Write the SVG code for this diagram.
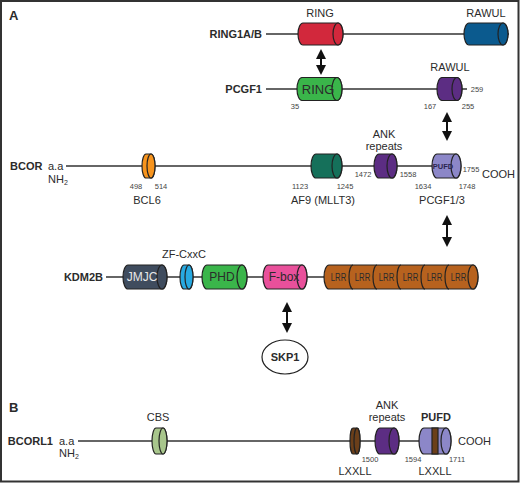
<svg xmlns="http://www.w3.org/2000/svg" width="520" height="483" viewBox="0 0 520 483">
<defs>
<style>
text{font-family:"Liberation Sans",Arial,sans-serif;fill:#2b2b2b}
.lbl{font-size:11px;font-weight:bold;text-anchor:end}
.dom{font-size:11px;text-anchor:middle}
.num{font-size:7.5px;text-anchor:middle;fill:#444}
.in{font-size:12px;text-anchor:middle}
.lrr{font-size:10px;text-anchor:middle}
.cyl{stroke:#222;stroke-width:1.2}
.ln{stroke:#333;stroke-width:1.5;fill:none}
.arr{stroke:#111;stroke-width:2;fill:none;marker-start:url(#ah);marker-end:url(#ah)}
</style>
<marker id="ah" viewBox="0 0 10 10" refX="8" refY="5" markerWidth="5" markerHeight="5" orient="auto-start-reverse" markerUnits="strokeWidth">
<path d="M0,0 L10,5 L0,10 Z" fill="#111"/>
</marker>
</defs>
<rect x="1" y="1" width="517.5" height="480.5" fill="#fff" stroke="#333" stroke-width="2"/>
<text x="9" y="20" style="font-size:13px;font-weight:bold">A</text>
<text x="9" y="412" style="font-size:13px;font-weight:bold">B</text>

<g id="connectors">
<line class="ln" x1="266" y1="34" x2="509" y2="34"/>
<line class="ln" x1="266" y1="89" x2="467" y2="89"/>
<line class="ln" x1="66" y1="166" x2="433" y2="166"/>
<line class="ln" x1="106" y1="277" x2="325" y2="277"/>
<line class="ln" x1="78" y1="441" x2="420" y2="441"/>
<line class="arr" x1="321" y1="51" x2="321" y2="73"/>
<line class="arr" x1="447" y1="114" x2="447" y2="139"/>
<line class="arr" x1="447" y1="217" x2="447" y2="245"/>
<line class="arr" x1="287" y1="304" x2="287" y2="331"/>
</g>

<g id="ring1ab">
<text class="lbl" x="262" y="38">RING1A/B</text>
<text class="dom" x="320" y="17">RING</text>
<path class="cyl" fill="#d2283c" d="M303,23 H338 A5,11 0 0 1 338,45 H303 A5,11 0 0 1 303,23 Z"/>
<ellipse class="cyl" fill="#d2283c" cx="338" cy="34" rx="5" ry="11"/>
<text class="dom" x="486" y="17">RAWUL</text>
<path class="cyl" fill="#0b5a8e" d="M469,23 H503 A5,11 0 0 1 503,45 H469 A5,11 0 0 1 469,23 Z"/>
<ellipse class="cyl" fill="#0b5a8e" cx="503" cy="34" rx="5" ry="11"/>
</g>

<g id="pcgf1">
<text class="lbl" x="262" y="93">PCGF1</text>
<path class="cyl" fill="#3ab54a" d="M302,77.5 H337 A5,11.5 0 0 1 337,100.5 H302 A5,11.5 0 0 1 302,77.5 Z"/>
<ellipse class="cyl" fill="#3ab54a" cx="337" cy="89" rx="5" ry="11.5"/>
<text class="in" x="318" y="94" style="font-size:13px">RING</text>
<text class="dom" x="450" y="71">RAWUL</text>
<path class="cyl" fill="#5c2d83" d="M442,77.5 H457 A5,11.5 0 0 1 457,100.5 H442 A5,11.5 0 0 1 442,77.5 Z"/>
<ellipse class="cyl" fill="#5c2d83" cx="457" cy="89" rx="5" ry="11.5"/>
<text class="num" x="477" y="92">259</text>
<text class="num" x="295" y="109">35</text>
<text class="num" x="430" y="109">167</text>
<text class="num" x="468" y="109">255</text>
</g>

<g id="bcor">
<text x="10" y="170" style="font-size:11px;font-weight:bold">BCOR</text>
<text x="48" y="170" style="font-size:11px">a.a</text>
<text x="48" y="183" style="font-size:11px">NH<tspan style="font-size:7px" dy="2">2</tspan></text>
<path class="cyl" fill="#f7941d" d="M146,154 H151 A4,12 0 0 1 151,178 H146 A4,12 0 0 1 146,154 Z"/>
<ellipse class="cyl" fill="#f7941d" cx="151" cy="166" rx="4" ry="12"/>
<text class="num" x="136" y="189">498</text>
<text class="num" x="161" y="189">514</text>
<text class="dom" x="147" y="204">BCL6</text>
<path class="cyl" fill="#15705a" d="M316,154 H337 A5,12 0 0 1 337,178 H316 A5,12 0 0 1 316,154 Z"/>
<ellipse class="cyl" fill="#15705a" cx="337" cy="166" rx="5" ry="12"/>
<text class="num" x="300" y="189">1123</text>
<text class="num" x="345" y="189">1245</text>
<text class="dom" x="323" y="204">AF9 (MLLT3)</text>
<text class="dom" x="384" y="138">ANK</text>
<text class="dom" x="384" y="150">repeats</text>
<path class="cyl" fill="#5c2d83" d="M379,154 H392 A5,12 0 0 1 392,178 H379 A5,12 0 0 1 379,154 Z"/>
<ellipse class="cyl" fill="#5c2d83" cx="392" cy="166" rx="5" ry="12"/>
<text class="num" x="363" y="177">1472</text>
<text class="num" x="408" y="177">1558</text>
<path class="cyl" fill="#8c87c8" d="M437,154 H456 A5,12 0 0 1 456,178 H437 A5,12 0 0 1 437,154 Z"/>
<ellipse class="cyl" fill="#8c87c8" cx="456" cy="166" rx="5" ry="12"/>
<text x="443" y="169" style="font-size:7.5px;font-weight:bold;text-anchor:middle;fill:#2a2550">PUFD</text>
<text class="num" x="471" y="172">1755</text>
<text x="482" y="178" style="font-size:11px">COOH</text>
<text class="num" x="423" y="189">1634</text>
<text class="num" x="467" y="189">1748</text>
<text class="dom" x="442" y="204">PCGF1/3</text>
</g>

<g id="kdm2b">
<text class="lbl" x="103" y="281">KDM2B</text>
<path class="cyl" fill="#3f4c5e" d="M128,265 H162 A5,12 0 0 1 162,289 H128 A5,12 0 0 1 128,265 Z"/>
<ellipse class="cyl" fill="#3f4c5e" cx="162" cy="277" rx="5" ry="12"/>
<text class="in" x="142" y="281" style="fill:#e8e8e8">JMJC</text>
<text class="dom" x="184" y="258">ZF-CxxC</text>
<path class="cyl" fill="#27a9e1" d="M184,265 H189 A4,12 0 0 1 189,289 H184 A4,12 0 0 1 184,265 Z"/>
<ellipse class="cyl" fill="#27a9e1" cx="189" cy="277" rx="4" ry="12"/>
<path class="cyl" fill="#3ab54a" d="M207,265 H242 A5,12 0 0 1 242,289 H207 A5,12 0 0 1 207,265 Z"/>
<ellipse class="cyl" fill="#3ab54a" cx="242" cy="277" rx="5" ry="12"/>
<text class="in" x="222" y="281">PHD</text>
<path class="cyl" fill="#e9509b" d="M268,265 H302 A5,12 0 0 1 302,289 H268 A5,12 0 0 1 268,265 Z"/>
<ellipse class="cyl" fill="#e9509b" cx="302" cy="277" rx="5" ry="12"/>
<text class="in" x="284" y="281">F-box</text>
<path class="cyl" fill="#b7621e" d="M329,265 H473 A5,12 0 0 1 473,289 H329 A5,12 0 0 1 329,265 Z"/>
<ellipse class="cyl" fill="#b7621e" cx="473" cy="277" rx="5" ry="12"/>
<path fill="none" stroke="#222" stroke-width="1.2" d="M353,265 A4,12 0 0 0 353,289 M377,265 A4,12 0 0 0 377,289 M401,265 A4,12 0 0 0 401,289 M425,265 A4,12 0 0 0 425,289 M449,265 A4,12 0 0 0 449,289"/>
<text class="lrr" x="338.5" y="281" textLength="15.5" lengthAdjust="spacingAndGlyphs">LRR</text>
<text class="lrr" x="362.5" y="281" textLength="15.5" lengthAdjust="spacingAndGlyphs">LRR</text>
<text class="lrr" x="386.5" y="281" textLength="15.5" lengthAdjust="spacingAndGlyphs">LRR</text>
<text class="lrr" x="410.5" y="281" textLength="15.5" lengthAdjust="spacingAndGlyphs">LRR</text>
<text class="lrr" x="434.5" y="281" textLength="15.5" lengthAdjust="spacingAndGlyphs">LRR</text>
<text class="lrr" x="458.5" y="281" textLength="15.5" lengthAdjust="spacingAndGlyphs">LRR</text>
</g>

<g id="skp1">
<ellipse cx="285" cy="357" rx="23" ry="17" fill="#fff" stroke="#222" stroke-width="1.2"/>
<text x="285" y="361" style="font-size:11px;font-weight:bold;text-anchor:middle">SKP1</text>
</g>

<g id="bcorl1">
<text class="lbl" x="53" y="445">BCORL1</text>
<text x="59" y="445" style="font-size:11px">a.a</text>
<text x="59" y="457" style="font-size:11px">NH<tspan style="font-size:7px" dy="2">2</tspan></text>
<text class="dom" x="158" y="421">CBS</text>
<path class="cyl" fill="#a8c68c" d="M156,428 H163 A4,13 0 0 1 163,454 H156 A4,13 0 0 1 156,428 Z"/>
<ellipse class="cyl" fill="#a8c68c" cx="163" cy="441" rx="4" ry="13"/>
<path class="cyl" fill="#6b3f1a" d="M353,428 H357 A3,13 0 0 1 357,454 H353 A3,13 0 0 1 353,428 Z"/>
<ellipse class="cyl" fill="#6b3f1a" cx="357" cy="441" rx="3" ry="13"/>
<text class="dom" x="355" y="475">LXXLL</text>
<text class="dom" x="387" y="409">ANK</text>
<text class="dom" x="387" y="421">repeats</text>
<path class="cyl" fill="#5c2d83" d="M380,428 H394 A5,13 0 0 1 394,454 H380 A5,13 0 0 1 380,428 Z"/>
<ellipse class="cyl" fill="#5c2d83" cx="394" cy="441" rx="5" ry="13"/>
<text class="num" x="370" y="462">1500</text>
<text x="436" y="421" style="font-size:11px;font-weight:bold;text-anchor:middle">PUFD</text>
<path class="cyl" fill="#8c87c8" d="M424,428 H446 A5,13 0 0 1 446,454 H424 A5,13 0 0 1 424,428 Z"/>
<rect class="cyl" fill="#6b3f1a" x="432" y="428" width="6" height="26"/>
<ellipse class="cyl" fill="#8c87c8" cx="446" cy="441" rx="5" ry="13"/>
<text class="num" x="413" y="462">1594</text>
<text class="num" x="457" y="462">1711</text>
<text x="458" y="445" style="font-size:11px">COOH</text>
<text class="dom" x="435" y="475">LXXLL</text>
</g>
</svg>
